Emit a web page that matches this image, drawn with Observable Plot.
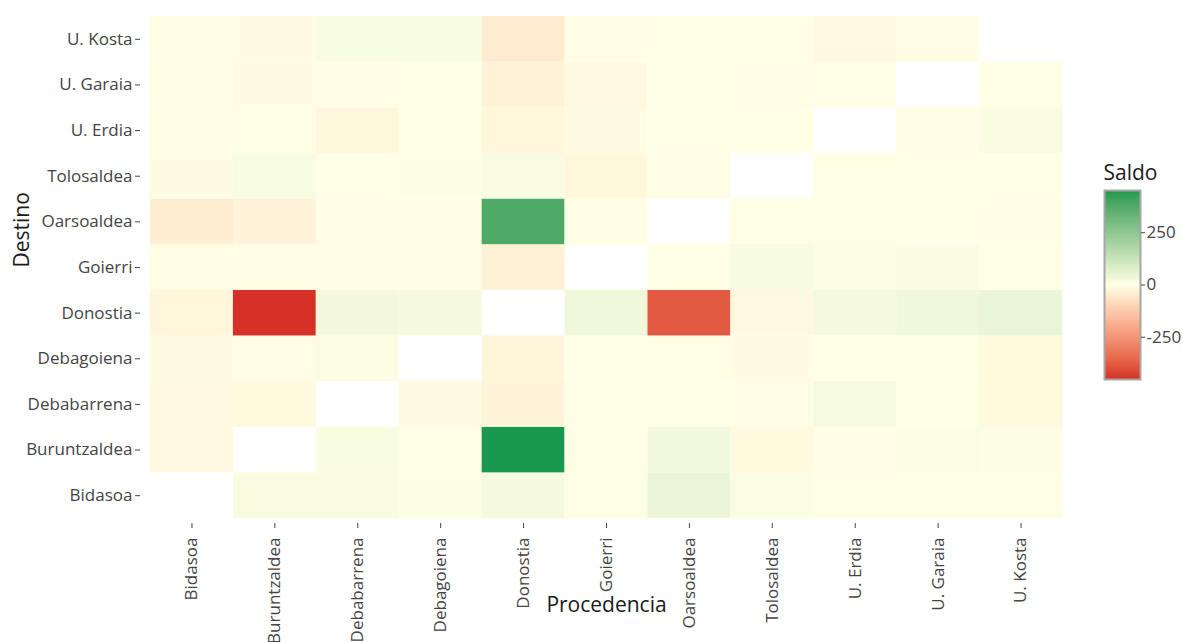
<!DOCTYPE html>
<html>
<head>
<meta charset="utf-8">
<script src="https://cdn.jsdelivr.net/npm/d3@7"></script>
<script src="https://cdn.jsdelivr.net/npm/@observablehq/plot@0.6"></script>
<style>
  html, body { margin: 0; padding: 0; background: #fff; }
  #wrap { position: relative; width: 1183px; height: 642px; overflow: hidden; font-family: "Open Sans", sans-serif; }
  #legend { position: absolute; left: 1095px; top: 150px; }
</style>
</head>
<body>
<div id="wrap"><div id="main"></div><div id="legend"></div></div>
<script>
// Regions (Procedencia on x, Destino on y)
const regions = ["Bidasoa", "Buruntzaldea", "Debabarrena", "Debagoiena", "Donostia", "Goierri",
                 "Oarsoaldea", "Tolosaldea", "U. Erdia", "U. Garaia", "U. Kosta"];

// Saldo by Destino row; values in the order of `regions` (Procedencia)
const destBidasoa      = [null,   12,   12,    6,   21,    5,   42,    8,    3,    5,    5];
const destBuruntzaldea = [ -12, null,   15,    5,  452,    5,   27,  -15,   -3,    9,    7];
const destDebabarrena  = [ -12,  -15, null,  -11,  -25,    5,    2,   -2,   20,    2,  -15];
const destDebagoiena   = [  -6,   -5,   11, null,  -23,    2,    3,   -6,    1,    1,  -15];
const destDonostia     = [ -21, -452,   25,   23, null,   33, -380,  -13,   22,   32,   46];
const destGoierri      = [  -5,   -5,   -5,   -2,  -33, null,    2,   17,    6,   14,    5];
const destOarsoaldea   = [ -42,  -27,   -2,   -3,  380,   -2, null,    3,    1,    1,   -4];
const destTolosaldea   = [  -8,   15,    2,    6,   13,  -17,   -3, null,    1,    2,    1];
const destUErdia       = [  -3,    3,  -20,   -1,  -22,   -6,   -1,   -1, null,   -5,   14];
const destUGaraia      = [  -5,   -9,   -2,   -1,  -32,  -14,   -1,   -2,    5, null,    2];
const destUKosta       = [  -5,   -7,   15,   15,  -46,   -5,    4,   -1,  -14,   -2, null];

const rowsByDest = {
  "Bidasoa": destBidasoa, "Buruntzaldea": destBuruntzaldea, "Debabarrena": destDebabarrena,
  "Debagoiena": destDebagoiena, "Donostia": destDonostia, "Goierri": destGoierri,
  "Oarsoaldea": destOarsoaldea, "Tolosaldea": destTolosaldea, "U. Erdia": destUErdia,
  "U. Garaia": destUGaraia, "U. Kosta": destUKosta
};

const legendTicks = [-250, 0, 250];
const limit = 452;

const data = [];
for (const dest of regions) {
  rowsByDest[dest].forEach((v, i) => {
    if (v !== null) data.push({dest, proc: regions[i], value: v});
  });
}

const colorScale = {
  type: "linear",
  domain: [-limit, 0, limit],
  range: ["#d73027", "#ffffe5", "#1a9850"],
  interpolate: "lab"
};

const main = Plot.plot({
  width: 1183,
  height: 642,
  marginLeft: 150,
  marginRight: 121,
  marginTop: 16,
  marginBottom: 124,
  style: {fontFamily: "'Open Sans', sans-serif", fontSize: "17px", color: "#444444", background: "transparent", overflow: "visible"},
  x: {domain: regions, padding: 0, round: false, label: null},
  y: {domain: regions.slice().reverse(), padding: 0, round: false, label: null},
  color: colorScale,
  marks: [
    Plot.cell(data, {x: "proc", y: "dest", fill: "value", inset: 0}),
    Plot.axisX({tickRotate: -90, tickSize: 5, dy: 5, tickPadding: 9, fontSize: 17, label: null}),
    Plot.axisY({tickSize: 5, dx: -10, tickPadding: 3, fontSize: 17, label: null}),
    Plot.text(["Procedencia"], {frameAnchor: "bottom", dy: 93, fontSize: 21, fill: "#1a1a1a"}),
    Plot.text(["Destino"], {frameAnchor: "left", dx: -128, rotate: -90, fontSize: 21, fill: "#1a1a1a"})
  ]
});
document.getElementById("main").appendChild(main);

const legendSteps = d3.range(-limit, limit, 4);
const legend = Plot.plot({
  width: 88,
  height: 239,
  marginLeft: 9,
  marginRight: 43,
  marginTop: 40,
  marginBottom: 10,
  style: {fontFamily: "'Open Sans', sans-serif", fontSize: "17px", color: "#444444", background: "transparent", overflow: "visible"},
  y: {domain: [-limit, limit], label: null},
  color: colorScale,
  marks: [
    Plot.rect(legendSteps, {y1: d => d, y2: d => Math.min(d + 6, limit), fill: d => d + 2, shapeRendering: "crispEdges"}),
    Plot.frame({stroke: "#a6a6a6", strokeWidth: 2}),
    Plot.axisY({anchor: "right", ticks: legendTicks, tickFormat: d => String(d), tickSize: 4, tickPadding: 2, fontSize: 17, label: null}),
    Plot.text(["Saldo"], {frameAnchor: "top-left", dy: -25, dx: -1, textAnchor: "start", fontSize: 21, fill: "#1a1a1a"})
  ]
});
document.getElementById("legend").appendChild(legend);
</script>
</body>
</html>
